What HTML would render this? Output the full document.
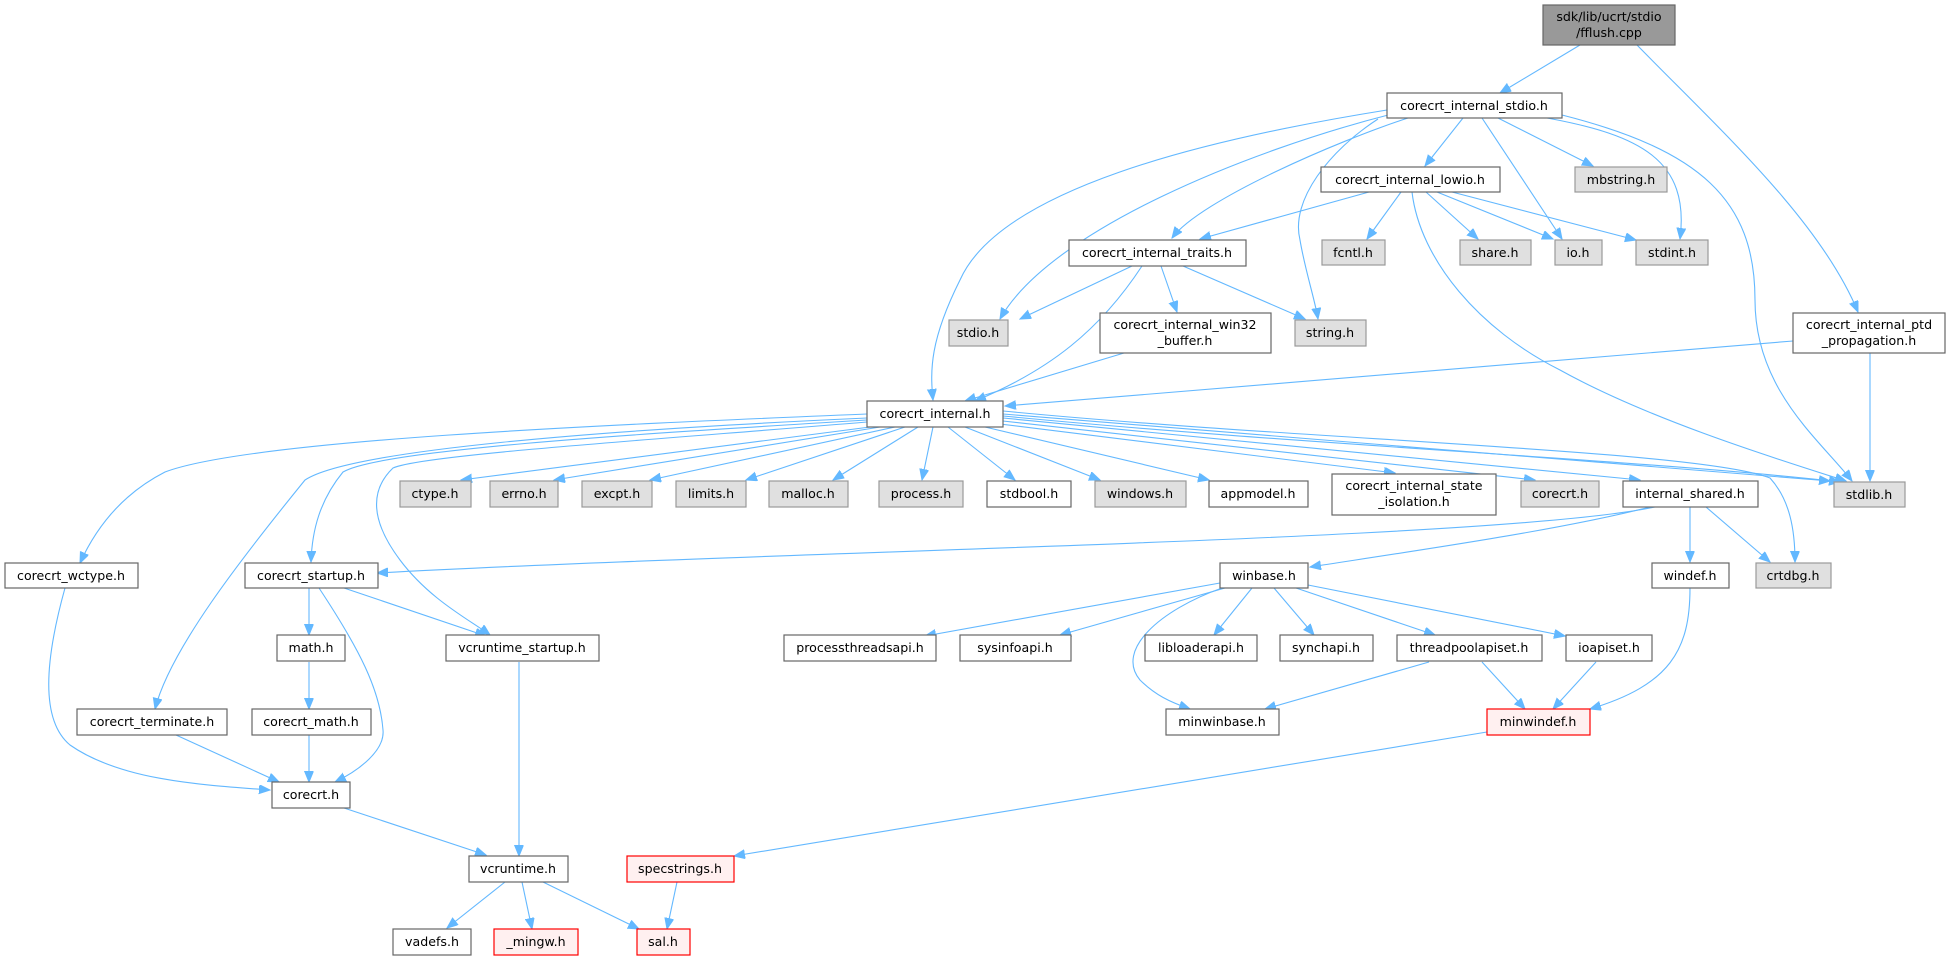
<!DOCTYPE html>
<html><head><meta charset="utf-8"><style>
html,body{margin:0;padding:0;background:#fff;}
svg{display:block;}
text{font-family:"DejaVu Sans","Liberation Sans",sans-serif;font-size:12.6px;fill:#000;text-anchor:middle;}
.n{fill:#fff;stroke:#666;stroke-width:1.2;}
.g{fill:#e0e0e0;stroke:#999;stroke-width:1.2;}
.r{fill:#fff0f0;stroke:#f00;stroke-width:1.2;}
.d{fill:#999;stroke:#666;stroke-width:1.2;}
path{fill:none;stroke:#63b8ff;stroke-width:1.1;marker-end:url(#a);}
</style></head><body>
<svg width="1951" height="960" viewBox="0 0 1951 960" xmlns="http://www.w3.org/2000/svg">
<defs><marker id="a" markerUnits="userSpaceOnUse" markerWidth="12" markerHeight="10" refX="11" refY="4.5" orient="auto"><polygon points="0,0 11,4.5 0,9" fill="#63b8ff" stroke="#63b8ff"/></marker></defs>

<path d="M1580,45 L1500,93"/>
<path d="M1637,45 C1720,130 1820,220 1858,312"/>
<path d="M1463,118 L1425,166"/>
<path d="M1498,118 L1593,166"/>
<path d="M1482,118 L1562,239"/>
<path d="M1547,118 C1640,135 1690,160 1680,239"/>
<path d="M1562,115 C1700,150 1755,200 1755,300 C1755,390 1820,440 1852,481"/>
<path d="M1408,118 C1340,140 1200,200 1172,238"/>
<path d="M1378,119 C1330,150 1290,200 1300,240 C1305,270 1315,300 1318,319"/>
<path d="M1392,114 C1250,150 1050,230 1000,319"/>
<path d="M1387,110 C1200,140 1000,190 960,280 C930,340 930,370 933,400"/>
<path d="M1369,192 L1200,239"/>
<path d="M1401,192 L1367,239"/>
<path d="M1426,192 L1478,239"/>
<path d="M1437,192 L1553,239"/>
<path d="M1452,192 L1636,240"/>
<path d="M1412,192 C1420,260 1480,330 1560,370 C1650,420 1780,460 1846,481"/>
<path d="M1132,266 L1020,319"/>
<path d="M1161,266 L1177,312"/>
<path d="M1183,266 L1305,319"/>
<path d="M1142,266 C1100,330 1050,370 975,401"/>
<path d="M1124,353 L965,401"/>
<path d="M1793,341 L1005,406"/>
<path d="M1870,353 L1870,481"/>
<path d="M870,427 L461,480"/>
<path d="M880,427 L554,480"/>
<path d="M895,427 L650,480"/>
<path d="M905,427 L746,480"/>
<path d="M918,427 L833,480"/>
<path d="M933,427 L922,480"/>
<path d="M948,427 L1015,480"/>
<path d="M965,427 L1100,480"/>
<path d="M985,427 L1209,480"/>
<path d="M1000,424 L1395,473"/>
<path d="M1003,421 L1535,480"/>
<path d="M1003,418 L1640,480"/>
<path d="M1003,414 L1830,481"/>
<path d="M1003,411 C1300,440 1700,450 1770,478 C1790,500 1795,530 1795,562"/>
<path d="M1003,416 C1300,445 1650,460 1840,482"/>
<path d="M867,414 C600,425 250,440 165,472 C120,495 95,530 80,563"/>
<path d="M867,418 C600,430 350,450 305,480 C240,560 170,650 155,709"/>
<path d="M867,420 C620,435 380,450 343,472 C320,500 312,530 311,562"/>
<path d="M867,422 C650,440 420,455 393,468 C370,490 370,520 400,560 C430,600 470,620 490,635"/>
<path d="M1655,507 C1500,540 800,550 377,573"/>
<path d="M1650,507 C1560,530 1420,550 1310,567"/>
<path d="M1690,507 L1690,562"/>
<path d="M1706,507 L1770,562"/>
<path d="M1220,583 L925,636"/>
<path d="M1225,588 L1060,635"/>
<path d="M1252,588 L1214,635"/>
<path d="M1274,588 L1314,635"/>
<path d="M1296,588 L1435,635"/>
<path d="M1308,585 L1565,636"/>
<path d="M1222,588 C1160,610 1115,650 1140,680 C1155,695 1170,702 1190,709"/>
<path d="M1429,662 L1265,709"/>
<path d="M1482,662 L1525,709"/>
<path d="M1596,662 L1553,709"/>
<path d="M1690,588 C1690,650 1670,685 1590,709"/>
<path d="M1487,732 L734,856"/>
<path d="M519,662 L519,856"/>
<path d="M309,588 L309,635"/>
<path d="M344,588 L486,636"/>
<path d="M319,588 C360,650 380,690 383,730 C385,750 360,770 335,782"/>
<path d="M309,662 L309,709"/>
<path d="M309,735 L309,782"/>
<path d="M176,735 L279,782"/>
<path d="M65,588 C45,660 40,720 70,745 C120,780 200,785 270,790"/>
<path d="M344,808 L486,855"/>
<path d="M505,882 L447,928"/>
<path d="M522,882 L532,929"/>
<path d="M543,882 L639,929"/>
<path d="M677,882 L667,929"/>

<rect class="d" x="1543" y="5" width="132" height="40"/><text x="1609" y="21">sdk/lib/ucrt/stdio</text><text x="1609" y="37">/fflush.cpp</text>
<rect class="n" x="1387" y="93" width="175" height="25"/><text x="1474" y="110">corecrt_internal_stdio.h</text>
<rect class="n" x="1321" y="167" width="179" height="25"/><text x="1410" y="184">corecrt_internal_lowio.h</text>
<rect class="g" x="1575" y="167" width="92" height="25"/><text x="1621" y="184">mbstring.h</text>
<rect class="n" x="1069" y="240" width="177" height="26"/><text x="1157" y="257">corecrt_internal_traits.h</text>
<rect class="g" x="1322" y="240" width="63" height="25"/><text x="1353" y="257">fcntl.h</text>
<rect class="g" x="1460" y="240" width="71" height="25"/><text x="1495" y="257">share.h</text>
<rect class="g" x="1555" y="240" width="47" height="25"/><text x="1578" y="257">io.h</text>
<rect class="g" x="1636" y="240" width="72" height="25"/><text x="1672" y="257">stdint.h</text>
<rect class="g" x="949" y="320" width="59" height="26"/><text x="978" y="337">stdio.h</text>
<rect class="n" x="1100" y="313" width="171" height="40"/><text x="1185" y="329">corecrt_internal_win32</text><text x="1185" y="345">_buffer.h</text>
<rect class="g" x="1295" y="320" width="71" height="26"/><text x="1330" y="337">string.h</text>
<rect class="n" x="1793" y="313" width="152" height="40"/><text x="1869" y="329">corecrt_internal_ptd</text><text x="1869" y="345">_propagation.h</text>
<rect class="n" x="867" y="401" width="136" height="26"/><text x="935" y="418">corecrt_internal.h</text>

<rect class="g" x="400" y="481" width="71" height="26"/><text x="435" y="498">ctype.h</text>
<rect class="g" x="490" y="481" width="68" height="26"/><text x="524" y="498">errno.h</text>
<rect class="g" x="582" y="481" width="70" height="26"/><text x="617" y="498">excpt.h</text>
<rect class="g" x="676" y="481" width="70" height="26"/><text x="711" y="498">limits.h</text>
<rect class="g" x="769" y="481" width="79" height="26"/><text x="808" y="498">malloc.h</text>
<rect class="g" x="879" y="481" width="84" height="26"/><text x="921" y="498">process.h</text>
<rect class="n" x="987" y="481" width="84" height="26"/><text x="1029" y="498">stdbool.h</text>
<rect class="g" x="1095" y="481" width="91" height="26"/><text x="1140" y="498">windows.h</text>
<rect class="n" x="1209" y="481" width="99" height="26"/><text x="1258" y="498">appmodel.h</text>
<rect class="n" x="1332" y="474" width="164" height="41"/><text x="1414" y="490">corecrt_internal_state</text><text x="1414" y="506">_isolation.h</text>
<rect class="g" x="1521" y="481" width="78" height="26"/><text x="1560" y="498">corecrt.h</text>
<rect class="n" x="1623" y="481" width="135" height="26"/><text x="1690" y="498">internal_shared.h</text>
<rect class="g" x="1834" y="482" width="71" height="25"/><text x="1869" y="499">stdlib.h</text>

<rect class="n" x="5" y="563" width="133" height="25"/><text x="71" y="580">corecrt_wctype.h</text>
<rect class="n" x="245" y="563" width="133" height="25"/><text x="311" y="580">corecrt_startup.h</text>
<rect class="n" x="1220" y="563" width="88" height="25"/><text x="1264" y="580">winbase.h</text>
<rect class="n" x="1652" y="563" width="77" height="25"/><text x="1690" y="580">windef.h</text>
<rect class="g" x="1756" y="563" width="75" height="25"/><text x="1793" y="580">crtdbg.h</text>

<rect class="n" x="277" y="635" width="68" height="26"/><text x="311" y="652">math.h</text>
<rect class="n" x="446" y="635" width="153" height="26"/><text x="522" y="652">vcruntime_startup.h</text>
<rect class="n" x="784" y="635" width="152" height="26"/><text x="860" y="652">processthreadsapi.h</text>
<rect class="n" x="960" y="635" width="111" height="26"/><text x="1015" y="652">sysinfoapi.h</text>
<rect class="n" x="1145" y="635" width="112" height="26"/><text x="1201" y="652">libloaderapi.h</text>
<rect class="n" x="1280" y="635" width="93" height="26"/><text x="1326" y="652">synchapi.h</text>
<rect class="n" x="1397" y="635" width="145" height="26"/><text x="1469" y="652">threadpoolapiset.h</text>
<rect class="n" x="1566" y="635" width="86" height="26"/><text x="1609" y="652">ioapiset.h</text>

<rect class="n" x="77" y="709" width="150" height="26"/><text x="152" y="726">corecrt_terminate.h</text>
<rect class="n" x="252" y="709" width="119" height="26"/><text x="311" y="726">corecrt_math.h</text>
<rect class="n" x="1166" y="709" width="113" height="26"/><text x="1222" y="726">minwinbase.h</text>
<rect class="r" x="1487" y="709" width="103" height="26"/><text x="1538" y="726">minwindef.h</text>

<rect class="n" x="272" y="782" width="78" height="26"/><text x="311" y="799">corecrt.h</text>
<rect class="n" x="469" y="856" width="99" height="26"/><text x="518" y="873">vcruntime.h</text>
<rect class="r" x="627" y="856" width="107" height="26"/><text x="680" y="873">specstrings.h</text>
<rect class="n" x="393" y="929" width="78" height="26"/><text x="432" y="946">vadefs.h</text>
<rect class="r" x="494" y="929" width="84" height="26"/><text x="536" y="946">_mingw.h</text>
<rect class="r" x="637" y="929" width="53" height="26"/><text x="663" y="946">sal.h</text>
</svg>
</body></html>
